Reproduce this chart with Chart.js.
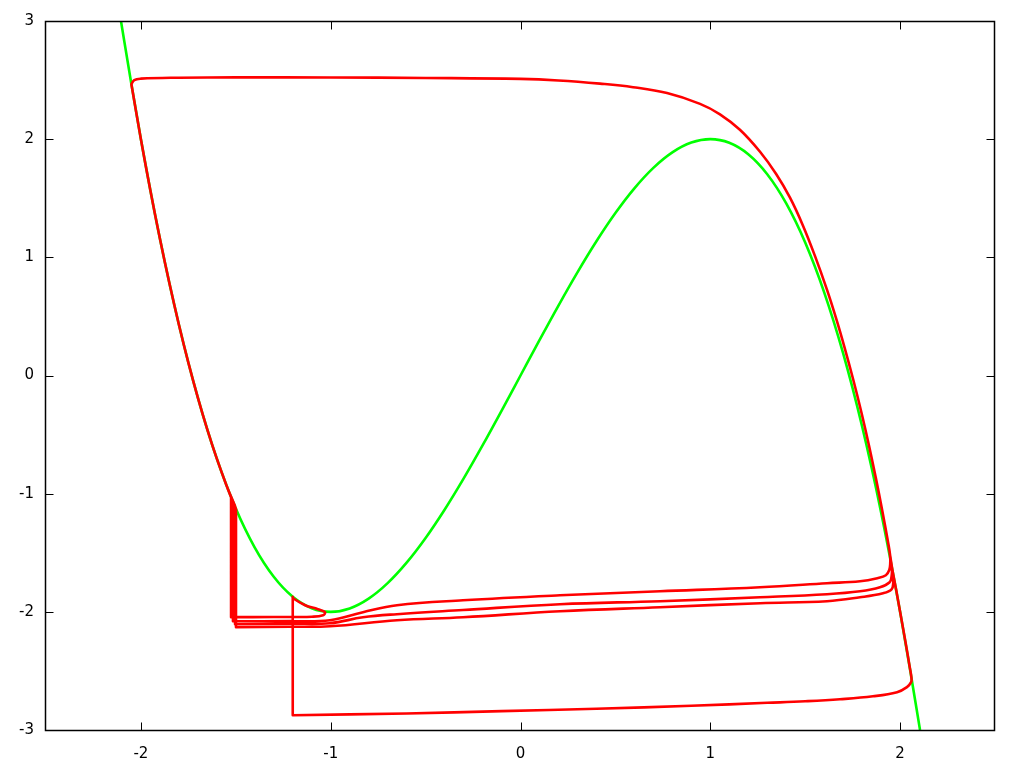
<!DOCTYPE html>
<html>
<head>
<meta charset="utf-8">
<script src="https://cdn.jsdelivr.net/npm/chart.js@4/dist/chart.umd.min.js"></script>
<style>
  html, body { margin: 0; padding: 0; background: #fff; overflow: hidden; }
  canvas { display: block; }
</style>
</head>
<body>
<canvas id="chart" width="1024" height="768"></canvas>
<script>
// tick labels
const xTicks = [-2, -1, 0, 1, 2];
const yTicks = [-3, -2, -1, 0, 1, 2, 3];

// green curve (nullcline)
const greenX = [-2.105, -2.05, -2.0, -1.9, -1.8, -1.7, -1.6, -1.5, -1.4, -1.3, -1.2, -1.1, -1.0,
    -0.9, -0.8, -0.7, -0.6, -0.5, -0.4, -0.3, -0.2, -0.1, 0, 0.1, 0.2, 0.3, 0.4, 0.5, 0.6, 0.7,
    0.8, 0.9, 1.0, 1.1, 1.2, 1.3, 1.4, 1.5, 1.6, 1.7, 1.8, 1.9, 2.0, 2.05, 2.105];
const greenY = [3.0, 2.465, 2.0, 1.159, 0.432, -0.187, -0.704, -1.125, -1.456, -1.703, -1.872, -1.969, -2.0,
    -1.971, -1.888, -1.757, -1.584, -1.375, -1.136, -0.873, -0.592, -0.299, 0, 0.299, 0.592, 0.873, 1.136, 1.375, 1.584, 1.757,
    1.888, 1.971, 2.0, 1.969, 1.872, 1.703, 1.456, 1.125, 0.704, 0.187, -0.432, -1.159, -2.0, -2.465, -3.0];

// red trajectory pieces
const topLineX = [-2.05, -2.035, -2.0, -1.8, -1.5, -1.0, -0.5, 0.0, 0.2, 0.419, 0.593, 0.772, 0.946, 1.051, 1.156, 1.262];
const topLineY = [2.465, 2.50, 2.512, 2.52, 2.523, 2.522, 2.518, 2.51, 2.497, 2.47, 2.44, 2.39, 2.299, 2.2105, 2.0795, 1.8935];

const rightBranchX = [1.3461, 1.4199, 1.4884, 1.5528, 1.6146, 1.6633, 1.7075, 1.7543, 1.7975, 1.836, 1.8715, 1.9056, 1.9347, 1.9473];
const rightBranchY = [1.7075, 1.5046, 1.268, 1.0059, 0.727, 0.4818, 0.2367, -0.0423, -0.3212, -0.5917, -0.8622, -1.1412, -1.3948, -1.52];

const outerX = [1.96, 1.98, 2.0, 2.03, 2.05, 2.06, 2.058, 2.036, 1.984, 1.857, 1.683, 1.5, 1.3, 0.9, 0.4, -0.1, -0.6, -1.2];
const outerY = [-1.65, -1.82, -2.0, -2.27, -2.46, -2.56, -2.595, -2.637, -2.68, -2.715, -2.74, -2.757, -2.77, -2.795, -2.82, -2.84, -2.86, -2.875];

const hookX = [-1.2, -1.198, -1.135, -1.067, -1.03, -1.04, -1.099, -1.3, -1.525];
const hookY = [-1.872, -1.885, -1.944, -1.978, -2.003, -2.029, -2.041, -2.044, -2.045];

const jumpX = [-1.525, -1.515, -1.504, -1.499];
const jumpY = [-1.03, -1.07, -1.105, -1.13];

const leftBranchX = [-1.55, -1.6, -1.65, -1.7, -1.75, -1.8, -1.85, -1.9, -1.95, -2.0];
const leftBranchY = [-0.926, -0.704, -0.458, -0.187, 0.109, 0.432, 0.782, 1.159, 1.565, 2.0];

const exit1X = [1.948, 1.943, 1.925, 1.88, 1.789, 1.615, 1.262, 0.735, 0.208, -0.303, -0.651, -0.83, -1.004, -1.214, -1.515];
const exit1Y = [-1.59, -1.645, -1.69, -1.715, -1.741, -1.758, -1.792, -1.826, -1.86, -1.902, -1.944, -2.003, -2.071, -2.079, -2.08];

const exit2X = [1.957, 1.955, 1.945, 1.894, 1.789, 1.615, 1.262, 0.735, 0.208, -0.303, -0.651, -0.83, -1.004, -1.214, -1.504];
const exit2Y = [-1.65, -1.70, -1.75, -1.792, -1.826, -1.851, -1.877, -1.91, -1.936, -1.985, -2.02, -2.046, -2.096, -2.10, -2.105];

const exit3X = [1.962, 1.964, 1.955, 1.91, 1.789, 1.615, 1.262, 0.735, 0.208, -0.303, -0.651, -1.004, -1.214, -1.499];
const exit3Y = [-1.69, -1.75, -1.81, -1.843, -1.877, -1.91, -1.927, -1.961, -1.995, -2.046, -2.071, -2.122, -2.126, -2.13];

function pts(xs, ys) {
    return xs.map((x, i) => ({ x: x, y: ys[i] }));
}

// put the pieces together in the order the trajectory runs;
// corner points are doubled so the smoothing keeps them sharp
let redPath = [];
function add(xs, ys, sharpStart, sharpEnd) {
    xs.forEach((x, i) => {
        redPath.push({ x: x, y: ys[i] });
        if ((i === 0 && sharpStart) || (i === xs.length - 1 && sharpEnd)) {
            redPath.push({ x: x, y: ys[i] });
        }
    });
}

add(topLineX, topLineY, true, false);
add(rightBranchX, rightBranchY);
add(outerX, outerY, false, true);
add(hookX, hookY, true, true);
add([jumpX[0]], [jumpY[0]], true, false);
add(leftBranchX, leftBranchY);
[[exit1X, exit1Y], [exit2X, exit2Y], [exit3X, exit3Y]].forEach((e, k) => {
    add(topLineX, topLineY, true, false);
    add(rightBranchX, rightBranchY);
    add(e[0], e[1], false, true);
    add([jumpX[k + 1]], [jumpY[k + 1]], true, false);
    add(leftBranchX, leftBranchY);
});

// border box + inward ticks on all four sides, like gnuplot
const frame = {
    id: 'frame',
    afterDraw(chart) {
        const { ctx, chartArea: a, scales } = chart;
        const len = 8;
        const L = Math.round(a.left) - 0.5, R = Math.round(a.right) - 0.5;
        const T = Math.round(a.top) + 0.5, B = Math.round(a.bottom) + 0.5;
        ctx.save();
        ctx.strokeStyle = '#000';
        ctx.lineWidth = 1.5;
        ctx.strokeRect(L, T, R - L, B - T);
        ctx.lineWidth = 1;
        ctx.beginPath();
        xTicks.forEach(v => {
            const px = Math.round(scales.x.getPixelForValue(v)) + 0.5;
            ctx.moveTo(px, B); ctx.lineTo(px, B - len);
            ctx.moveTo(px, T); ctx.lineTo(px, T + len);
        });
        yTicks.forEach(v => {
            const py = Math.round(scales.y.getPixelForValue(v)) + 0.5;
            ctx.moveTo(L, py); ctx.lineTo(L + len, py);
            ctx.moveTo(R, py); ctx.lineTo(R - len, py);
        });
        ctx.stroke();
        ctx.restore();
    }
};

const tickFont = { family: 'DejaVu Sans', size: 15 };

new Chart(document.getElementById('chart'), {
    type: 'scatter',
    data: {
        datasets: [{
            data: redPath,
            showLine: true,
            borderColor: '#ff0000',
            borderWidth: 2.6,
            borderJoinStyle: 'round',
            borderCapStyle: 'round',
            pointRadius: 0,
            tension: 0.4
        }, {
            data: pts(greenX, greenY),
            showLine: true,
            borderColor: '#00ff00',
            borderWidth: 2.6,
            pointRadius: 0,
            cubicInterpolationMode: 'monotone'
        }]
    },
    options: {
        responsive: false,
        animation: false,
        devicePixelRatio: 1,
        layout: { padding: { top: 20, right: 29, left: 0, bottom: 0 } },
        scales: {
            x: {
                type: 'linear',
                min: -2.5,
                max: 2.5,
                afterBuildTicks: s => { s.ticks = xTicks.map(v => ({ value: v })); },
                afterFit: s => { s.height = 38; },
                grid: { display: false, drawTicks: false },
                border: { display: false },
                ticks: { color: '#000', font: tickFont, padding: 15, maxRotation: 0 }
            },
            y: {
                type: 'linear',
                min: -3,
                max: 3,
                afterBuildTicks: s => { s.ticks = yTicks.map(v => ({ value: v })); },
                afterFit: s => { s.width = 46; },
                grid: { display: false, drawTicks: false },
                border: { display: false },
                ticks: { color: '#000', font: tickFont, padding: 12 }
            }
        },
        plugins: {
            legend: { display: false },
            tooltip: { enabled: false }
        }
    },
    plugins: [frame]
});
</script>
</body>
</html>
